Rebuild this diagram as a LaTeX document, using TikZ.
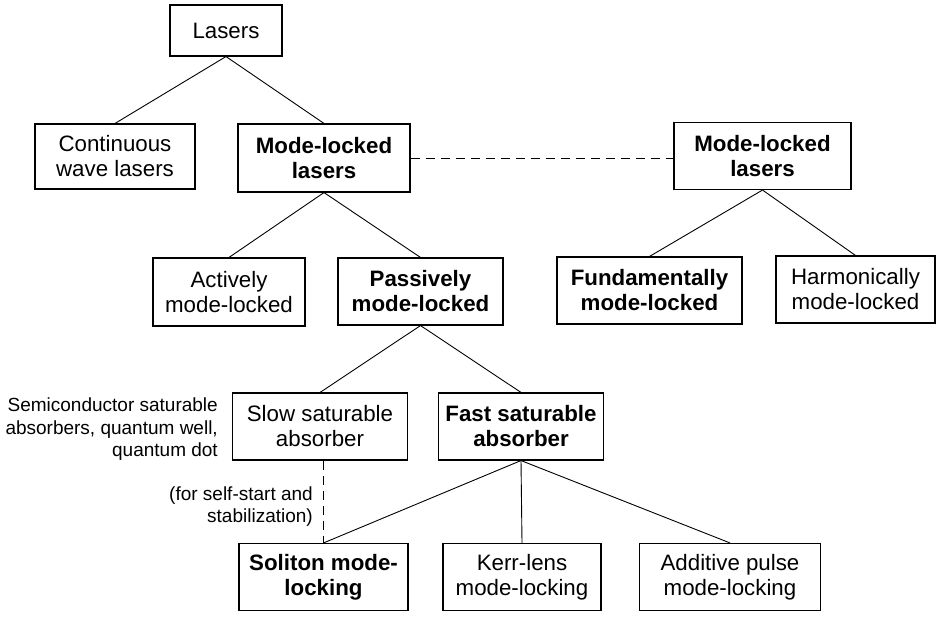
\documentclass[tikz,border=0pt]{standalone}
\usepackage{fontspec}
\setmainfont{Liberation Sans}
\begin{document}
\begin{tikzpicture}[x=1pt,y=-1pt,
  every node/.style={font=\fontsize{22.3}{25}\selectfont, align=center, inner sep=0pt},
  box/.style={draw, line width=1.1pt, minimum width=#1},
  box/.default=160pt,
  hb/.style={font=\fontsize{22.3}{25}\selectfont\bfseries},
  link/.style={line width=0.9pt},
  dlink/.style={line width=0.9pt, dash pattern=on 9pt off 6pt},
  note/.style={font=\fontsize{19}{22.5}\selectfont, align=right, anchor=east}]
\useasboundingbox (0,0) rectangle (936,628);

% first row
\node[box=112pt, minimum height=51pt] (las) at (226,30.5) {Lasers};

% second row
\node[box=160pt, minimum height=65pt] (cw) at (115,156.5) {Continuous\\wave lasers};
\node[box=172pt, minimum height=68pt, hb] (ml) at (324,158) {Mode-locked\\lasers};
\node[box=177pt, minimum height=67pt, hb] (ml2) at (762.5,156) {Mode-locked\\lasers};

% third row
\node[box=152pt, minimum height=68pt] (act) at (229,292) {Actively\\mode-locked};
\node[box=165pt, minimum height=67pt, hb] (pas) at (420.5,291.5) {Passively\\mode-locked};
\node[box=185pt, minimum height=67pt, hb] (fund) at (649.5,290.5) {Fundamentally\\mode-locked};
\node[box=159pt, minimum height=67pt] (harm) at (855.5,289.5) {Harmonically\\mode-locked};

% fourth row
\node[box=175pt, minimum height=67pt] (slow) at (320,426.5) {Slow saturable\\absorber};
\node[box=165pt, minimum height=67pt, hb] (fast) at (521,426.5) {Fast saturable\\absorber};

% fifth row
\node[box=169pt, minimum height=67pt, hb] (sol) at (323.5,577) {Soliton mode-\\locking};
\node[box=158pt, minimum height=67pt] (kerr) at (522,577) {Kerr-lens\\mode-locking};
\node[box=181pt, minimum height=67pt] (add) at (730,577) {Additive pulse\\mode-locking};

% side remarks
\node[note] (semi) at (218,429.5) {Semiconductor saturable\\absorbers, quantum well,\\quantum dot};
\node[note] (self) at (313,506.5) {(for self-start and\\stabilization)};

% tree connectors
\draw[link] (las.south) -- (cw.north);
\draw[link] (las.south) -- (ml.north);
\draw[link] (ml.south) -- (act.north);
\draw[link] (ml.south) -- (pas.north);
\draw[link] (ml2.south) -- (fund.north);
\draw[link] (ml2.south) -- (harm.north);
\draw[link] (pas.south) -- (slow.north);
\draw[link] (pas.south) -- (fast.north);
\draw[link] (fast.south) -- (sol.north);
\draw[link] (fast.south) -- (kerr.north);
\draw[link] (fast.south) -- (add.north);

% dashed relations
\draw[dlink] (ml.east) -- (ml.east -| ml2.west);
\draw[dlink] (slow.south -| sol.north) -- (sol.north);
\end{tikzpicture}
\end{document}
